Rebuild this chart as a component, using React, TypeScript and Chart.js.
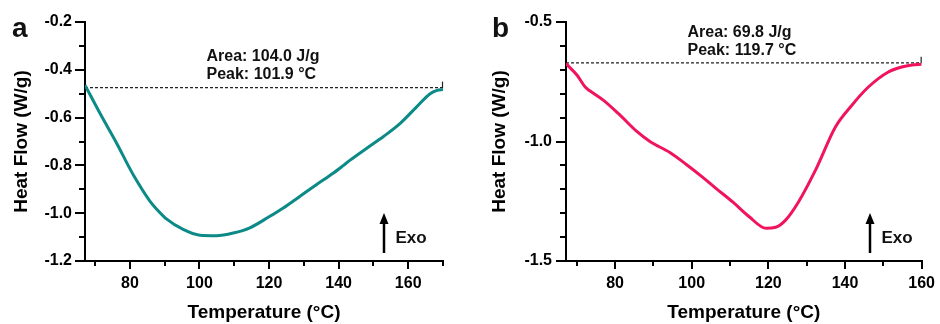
import React, { useEffect, useRef } from 'react';
import { Chart, registerables } from 'chart.js';

Chart.register(...registerables);

const FONT = "'Liberation Sans', Arial, Helvetica, sans-serif";

// ---------- Panel a data ----------
const tempA = [67.1, 71.4, 76.2, 79.5, 81.0, 85.7, 88.6, 90.5, 95.3, 100.1, 104.9, 109.7, 114.5, 120.0, 124.1, 128.9, 133.7, 138.5, 141.3, 143.3, 148.1, 152.9, 157.7, 162.5, 166.3, 168.3, 170.0];
const heatA = [-0.464, -0.582, -0.707, -0.8, -0.84, -0.948, -0.997, -1.024, -1.068, -1.092, -1.094, -1.083, -1.061, -1.015, -0.978, -0.929, -0.88, -0.832, -0.801, -0.778, -0.728, -0.679, -0.624, -0.554, -0.5, -0.486, -0.482];
const baseTempA = [67.1, 170.0];
const baseHeatA = [-0.4745, -0.4745];
const xMajorA = [80, 100, 120, 140, 160];
const xMinorA = [70, 90, 110, 130, 150, 170];
const yMajorA = [-1.2, -1.0, -0.8, -0.6, -0.4, -0.2];
const yMinorA = [-1.1, -0.9, -0.7, -0.5, -0.3];
const notesA = ['Area: 104.0 J/g', 'Peak: 101.9 °C'];

// ---------- Panel b data ----------
const tempB = [67.2, 70.1, 72.2, 73.5, 77.0, 81.3, 85.6, 89.1, 94.3, 98.6, 102.9, 106.4, 110.7, 115.0, 119.4, 121.9, 124.5, 127.9, 132.3, 137.5, 141.8, 146.1, 151.3, 154.8, 157.5, 160.0];
const heatB = [-0.674, -0.723, -0.772, -0.789, -0.828, -0.89, -0.957, -1.0, -1.046, -1.096, -1.15, -1.197, -1.253, -1.315, -1.363, -1.359, -1.329, -1.252, -1.12, -0.939, -0.848, -0.772, -0.709, -0.688, -0.68, -0.677];
const baseTempB = [67.2, 160.0];
const baseHeatB = [-0.671, -0.671];
const xMajorB = [80, 100, 120, 140, 160];
const xMinorB = [70, 90, 110, 130, 150];
const yMajorB = [-1.5, -1.0, -0.5];
const yMinorB = [-1.4, -1.3, -1.2, -1.1, -0.9, -0.8, -0.7, -0.6];
const notesB = ['Area: 69.8 J/g', 'Peak: 119.7 °C'];

const X_TITLE = 'Temperature (°C)';
const Y_TITLE = 'Heat Flow (W/g)';

type Panel = {
  letter: string;
  color: string;
  temps: number[];
  heats: number[];
  baseT: number[];
  baseH: number[];
  xMin: number;
  xMax: number;
  yMin: number;
  yMax: number;
  xMajor: number[];
  xMinor: number[];
  yMajor: number[];
  yMinor: number[];
  notes: string[];
  leftWidth: number;
  rightPad: number;
  yTitlePad: number;
  yTickPad: number;
  letterX: number;
  letterY: number;
  noteX: number;
  noteY: number;
  arrowX: number;
  exoX: number;
};

const panels: Panel[] = [
  {
    letter: 'a', color: '#0c8a87', temps: tempA, heats: heatA, baseT: baseTempA, baseH: baseHeatA,
    xMin: 67.1, xMax: 170, yMin: -1.2, yMax: -0.2,
    xMajor: xMajorA, xMinor: xMinorA, yMajor: yMajorA, yMinor: yMinorA, notes: notesA,
    leftWidth: 85, rightPad: 27, yTitlePad: 12.5, yTickPad: 3,
    letterX: 12, letterY: 37, noteX: 206.5, noteY: 61, arrowX: 384, exoX: 395.5,
  },
  {
    letter: 'b', color: '#f0145e', temps: tempB, heats: heatB, baseT: baseTempB, baseH: baseHeatB,
    xMin: 67.2, xMax: 160, yMin: -1.5, yMax: -0.5,
    xMajor: xMajorB, xMinor: xMinorB, yMajor: yMajorB, yMinor: yMinorB, notes: notesB,
    leftWidth: 96, rightPad: 16.7, yTitlePad: 20.5, yTickPad: 4,
    letterX: 22, letterY: 37, noteX: 217.5, noteY: 37, arrowX: 400, exoX: 411.5,
  },
];

function overlayPlugin(p: Panel) {
  return {
    id: 'overlay_' + p.letter,
    afterDraw(chart: any) {
      const { ctx, chartArea: ca } = chart;
      const x = chart.scales.x;
      const y = chart.scales.y;
      ctx.save();
      // minor ticks
      ctx.strokeStyle = '#000';
      ctx.lineWidth = 2;
      ctx.beginPath();
      p.xMinor.forEach((v) => {
        const px = Math.round(x.getPixelForValue(v));
        ctx.moveTo(px, ca.bottom);
        ctx.lineTo(px, ca.bottom + 5);
      });
      p.yMinor.forEach((v) => {
        const py = Math.round(y.getPixelForValue(v));
        ctx.moveTo(ca.left, py);
        ctx.lineTo(ca.left - 6, py);
      });
      ctx.stroke();
      // baseline end tick
      const n = p.baseT.length - 1;
      const bx = x.getPixelForValue(p.baseT[n]);
      const by = y.getPixelForValue(p.baseH[n]);
      ctx.strokeStyle = '#222';
      ctx.lineWidth = 1.2;
      ctx.beginPath();
      ctx.moveTo(bx - 0.5, by);
      ctx.lineTo(bx - 0.5, by - 6);
      ctx.stroke();
      // Exo arrow
      ctx.strokeStyle = '#000';
      ctx.fillStyle = '#000';
      ctx.lineWidth = 2.5;
      ctx.beginPath();
      ctx.moveTo(p.arrowX, 253);
      ctx.lineTo(p.arrowX, 222);
      ctx.stroke();
      ctx.beginPath();
      ctx.moveTo(p.arrowX - 4.5, 224);
      ctx.lineTo(p.arrowX + 4.5, 224);
      ctx.lineTo(p.arrowX, 213);
      ctx.closePath();
      ctx.fill();
      // texts
      ctx.fillStyle = '#111';
      ctx.textAlign = 'left';
      ctx.textBaseline = 'alphabetic';
      ctx.font = `bold 28px ${FONT}`;
      ctx.fillText(p.letter, p.letterX, p.letterY);
      ctx.font = `bold 16px ${FONT}`;
      p.notes.forEach((t, i) => ctx.fillText(t, p.noteX, p.noteY + i * 17.8));
      ctx.font = `bold 17px ${FONT}`;
      ctx.fillText('Exo', p.exoX, 243);
      ctx.restore();
    },
  };
}

function PanelChart({ p }: { p: Panel }) {
  const ref = useRef<HTMLCanvasElement | null>(null);
  useEffect(() => {
    if (!ref.current) return;
    const chart = new Chart(ref.current, {
      type: 'line',
      data: {
        datasets: [
          {
            data: p.temps.map((t, i) => ({ x: t, y: p.heats[i] })),
            borderColor: p.color,
            borderWidth: 3,
            pointRadius: 0,
            cubicInterpolationMode: 'monotone',
            fill: false,
          },
          {
            data: p.baseT.map((t, i) => ({ x: t, y: p.baseH[i] })),
            borderColor: '#222',
            borderWidth: 1.1,
            borderDash: [3, 2],
            pointRadius: 0,
            fill: false,
          },
        ],
      },
      options: {
        animation: false,
        responsive: false,
        events: [],
        layout: { padding: { top: 22, right: p.rightPad, left: 0, bottom: 0 } },
        plugins: { legend: { display: false }, tooltip: { enabled: false }, title: { display: false } },
        scales: {
          x: {
            type: 'linear',
            min: p.xMin,
            max: p.xMax,
            afterBuildTicks: (s: any) => { s.ticks = p.xMajor.map((v) => ({ value: v })); },
            afterFit: (s: any) => { s.height = 63; },
            ticks: {
              color: '#000',
              padding: 5,
              maxRotation: 0,
              autoSkip: false,
              font: { family: FONT, size: 16, weight: 'bold' },
              callback: (v: any) => String(v),
            },
            grid: { drawOnChartArea: false, color: '#000', lineWidth: 2, tickLength: 8, tickWidth: 2 },
            border: { display: true, color: '#000', width: 2 },
            title: {
              display: true,
              text: X_TITLE,
              color: '#000',
              font: { family: FONT, size: 19, weight: 'bold', lineHeight: 1 },
              padding: { top: 0, bottom: 1.6 },
            },
          },
          y: {
            type: 'linear',
            min: p.yMin,
            max: p.yMax,
            afterBuildTicks: (s: any) => { s.ticks = p.yMajor.map((v) => ({ value: v })); },
            afterFit: (s: any) => { s.width = p.leftWidth; },
            ticks: {
              color: '#000',
              padding: p.yTickPad,
              autoSkip: false,
              font: { family: FONT, size: 16, weight: 'bold' },
              callback: (v: any) => Number(v).toFixed(1),
            },
            grid: { drawOnChartArea: false, color: '#000', lineWidth: 2, tickLength: 10, tickWidth: 2 },
            border: { display: true, color: '#000', width: 2 },
            title: {
              display: true,
              text: Y_TITLE,
              color: '#000',
              font: { family: FONT, size: 19, weight: 'bold', lineHeight: 1 },
              padding: { top: p.yTitlePad, bottom: 0 },
            },
          },
        },
      } as any,
      plugins: [overlayPlugin(p)],
    });
    return () => chart.destroy();
  }, [p]);
  return <canvas ref={ref} width={470} height={324} style={{ display: 'block', width: 470, height: 324 }} />;
}

export default function App() {
  return (
    <div style={{ position: 'absolute', left: 0, top: 0, width: 940, height: 324, display: 'flex', background: '#fff' }}>
      {panels.map((p) => (
        <PanelChart key={p.letter} p={p} />
      ))}
    </div>
  );
}
